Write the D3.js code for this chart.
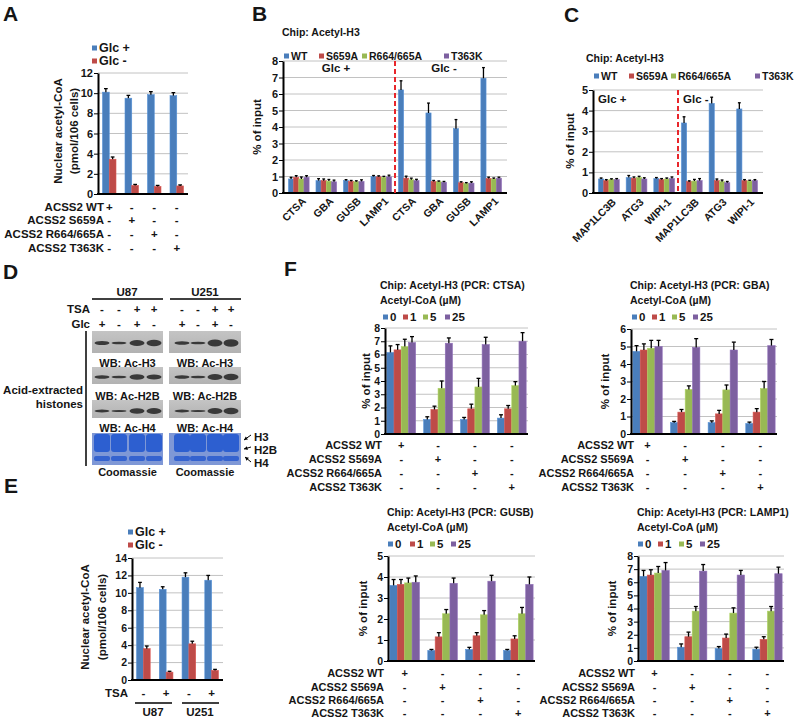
<!DOCTYPE html>
<html><head><meta charset="utf-8">
<script src="https://cdn.jsdelivr.net/npm/d3@7"></script>
<style>
body{margin:0;background:#fff}
svg text{font-family:"Liberation Sans",Arial,sans-serif;font-weight:bold;fill:#151515}
</style>
</head><body>
<svg id="c" width="800" height="721"></svg>
<script>
// ---------------- DATA ----------------
// Panel A
const aLegend = ["Glc +", "Glc -"];
const aGlcPlus = [10.1, 9.5, 9.85, 9.75];
const aGlcPlusErr = [0.35, 0.28, 0.3, 0.3];
const aGlcMinus = [3.45, 0.85, 0.75, 0.8];
const aGlcMinusErr = [0.22, 0.1, 0.1, 0.1];
const aRowLabels = ["ACSS2 WT", "ACSS2 S659A", "ACSS2 R664/665A", "ACSS2 T363K"];
const aTicks = [0, 2, 4, 6, 8, 10, 12];

// Panel B
const bLegend = ["WT", "S659A", "R664/665A", "T363K"];
const bGenes = ["CTSA", "GBA", "GUSB", "LAMP1", "CTSA", "GBA", "GUSB", "LAMP1"];
const bWT = [0.85, 0.75, 0.75, 1.0, 6.25, 4.85, 3.9, 6.95];
const bWTErr = [0.1, 0.12, 0.06, 0.06, 0.55, 0.6, 0.55, 0.65];
const bS659A = [0.95, 0.75, 0.7, 0.98, 0.9, 0.7, 0.62, 0.88];
const bS659AErr = [0.1, 0.1, 0.06, 0.06, 0.12, 0.06, 0.06, 0.08];
const bR664 = [0.85, 0.72, 0.68, 0.95, 0.8, 0.68, 0.58, 0.85];
const bR664Err = [0.12, 0.1, 0.06, 0.06, 0.1, 0.05, 0.05, 0.06];
const bT363K = [0.95, 0.68, 0.7, 0.98, 0.75, 0.65, 0.6, 0.9];
const bT363KErr = [0.1, 0.1, 0.1, 0.1, 0.08, 0.05, 0.08, 0.06];
const bTicks = [0, 1, 2, 3, 4, 5, 6, 7, 8];

// Panel C
const cGenes = ["MAP1LC3B", "ATG3", "WIPI-1", "MAP1LC3B", "ATG3", "WIPI-1"];
const cWT = [0.68, 0.75, 0.7, 3.4, 4.35, 4.08];
const cWTErr = [0.05, 0.1, 0.05, 0.3, 0.3, 0.3];
const cS659A = [0.6, 0.72, 0.65, 0.55, 0.6, 0.6];
const cS659AErr = [0.05, 0.06, 0.05, 0.04, 0.08, 0.05];
const cR664 = [0.65, 0.75, 0.68, 0.58, 0.55, 0.58];
const cR664Err = [0.04, 0.06, 0.05, 0.08, 0.08, 0.04];
const cT363K = [0.65, 0.68, 0.7, 0.6, 0.5, 0.6];
const cT363KErr = [0.05, 0.06, 0.08, 0.1, 0.06, 0.05];
const cTicks = [0, 1, 2, 3, 4, 5];

// Panel D (western blot band strengths per lane: Glc+/-, TSA-/+)
const dBlotLabels = ["WB: Ac-H3", "WB: Ac-H2B", "WB: Ac-H4"];
const dU87Bands = [[4, 2.5, 6, 6.5], [3.5, 2.5, 5.5, 5], [3, 2, 5.5, 6]];
const dU251Bands = [[3.5, 2.5, 7, 7.5], [3.5, 2.5, 6, 6.5], [3, 2, 6, 6.5]];
const dTSA = ["-", "-", "+", "+"];
const dGlc = ["+", "-", "+", "-"];

// Panel E
const eGlcPlus = [10.6, 10.4, 11.8, 11.45];
const eGlcPlusErr = [0.6, 0.3, 0.5, 0.55];
const eGlcMinus = [3.6, 0.9, 4.15, 1.1];
const eGlcMinusErr = [0.3, 0.1, 0.3, 0.12];
const eTSA = ["-", "+", "-", "+"];
const eCells = ["U87", "U251"];
const eTicks = [0, 2, 4, 6, 8, 10, 12, 14];

// Panel F (series = acetyl-CoA 0,1,5,25 µM; groups = WT,S569A,R664/665A,T363K)
const fConc = ["0", "1", "5", "25"];
const fRowLabels = ["ACSS2 WT", "ACSS2 S569A", "ACSS2 R664/665A", "ACSS2 T363K"];
const fCTSA = [[6.15, 1.1, 1.1, 1.2], [6.35, 1.85, 1.9, 1.9], [6.6, 3.45, 3.55, 3.65], [6.9, 6.85, 6.75, 7.0]];
const fCTSAErr = [[0.5, 0.2, 0.15, 0.25], [0.4, 0.25, 0.35, 0.25], [0.55, 0.55, 0.65, 0.3], [0.45, 0.4, 0.55, 0.65]];
const fGBA = [[4.72, 0.65, 0.65, 0.6], [4.8, 1.25, 1.15, 1.25], [4.9, 2.55, 2.52, 2.6], [5.0, 4.95, 4.8, 5.05]];
const fGBAErr = [[0.33, 0.07, 0.1, 0.08], [0.35, 0.15, 0.2, 0.2], [0.45, 0.2, 0.28, 0.4], [0.35, 0.5, 0.45, 0.35]];
const fGUSB = [[3.6, 0.5, 0.55, 0.5], [3.65, 1.15, 1.2, 1.05], [3.72, 2.25, 2.2, 2.25], [3.75, 3.7, 3.8, 3.65]];
const fGUSBErr = [[0.28, 0.05, 0.1, 0.05], [0.23, 0.2, 0.15, 0.15], [0.23, 0.2, 0.2, 0.3], [0.3, 0.25, 0.28, 0.35]];
const fLAMP1 = [[6.45, 1.05, 0.95, 0.9], [6.55, 1.85, 1.75, 1.65], [6.7, 3.8, 3.65, 3.8], [6.9, 6.85, 6.55, 6.65]];
const fLAMP1Err = [[0.45, 0.25, 0.15, 0.15], [0.4, 0.35, 0.3, 0.2], [0.5, 0.35, 0.4, 0.35], [0.6, 0.5, 0.35, 0.5]];

// ---------------- DRAWING ----------------
const svg = d3.select("#c");
const COL = ["#4a7ebb", "#be4b48", "#98b954", "#7d60a0"];

function txt(x, y, s, o = {}) {
  const t = svg.append("text").attr("x", x).attr("y", y).text(s)
    .attr("font-size", o.size || 11).attr("text-anchor", o.anchor || "start")
    .attr("dominant-baseline", "central");
  if (o.rotate != null) t.attr("transform", `rotate(${o.rotate},${x},${y})`);
  return t;
}
function line(x1, y1, x2, y2, w = 1, c = "#000", dash = null) {
  const l = svg.append("line").attr("x1", x1).attr("y1", y1).attr("x2", x2).attr("y2", y2)
    .attr("stroke", c).attr("stroke-width", w);
  if (dash) l.attr("stroke-dasharray", dash);
  return l;
}

function barPanel(cfg) {
  const g = svg.append("g");
  const n = cfg.series[0].vals.length;
  const x0 = d3.scaleBand().domain(d3.range(n)).range([cfg.left, cfg.right])
    .paddingInner(cfg.pi).paddingOuter(cfg.po);
  const x1 = d3.scaleBand().domain(d3.range(cfg.series.length)).range([0, x0.bandwidth()]);
  const y = d3.scaleLinear().domain([0, d3.max(cfg.ticks)]).range([cfg.bottom, cfg.top]);
  g.selectAll(".grid").data(cfg.ticks.filter(t => t > 0)).join("line")
    .attr("x1", cfg.left).attr("x2", cfg.right)
    .attr("y1", d => y(d)).attr("y2", d => y(d))
    .attr("stroke", "#c2c2c2").attr("stroke-width", 1);
  cfg.series.forEach((s, si) => {
    const sg = g.append("g");
    sg.selectAll("rect").data(s.vals).join("rect")
      .attr("x", (d, i) => x0(i) + x1(si)).attr("width", x1.bandwidth())
      .attr("y", d => y(d)).attr("height", d => y(0) - y(d))
      .attr("fill", s.color).attr("stroke", d3.color(s.color).brighter(0.4)).attr("stroke-width", 0.6);
    const cw = Math.min(4, x1.bandwidth() * 0.55);
    s.vals.forEach((v, i) => {
      const cx = x0(i) + x1(si) + x1.bandwidth() / 2;
      const e = s.errs[i];
      sg.append("line").attr("x1", cx).attr("x2", cx).attr("y1", y(v)).attr("y2", y(v + e))
        .attr("stroke", "#000").attr("stroke-width", 1.3);
      sg.append("line").attr("x1", cx - cw / 2).attr("x2", cx + cw / 2).attr("y1", y(v + e)).attr("y2", y(v + e))
        .attr("stroke", "#000").attr("stroke-width", 1.3);
    });
  });
  const ax = g.append("g").attr("transform", `translate(${cfg.left},0)`)
    .call(d3.axisLeft(y).tickValues(cfg.ticks).tickSize(4).tickSizeOuter(0).tickFormat(d3.format("d")));
  ax.select(".domain").attr("stroke", "#000").attr("stroke-width", 2);
  ax.selectAll(".tick line").attr("stroke", "#000").attr("stroke-width", 1);
  ax.selectAll(".tick text").attr("font-size", cfg.tickSize || 11).attr("x", -5)
    .attr("font-family", '"Liberation Sans",Arial,sans-serif').attr("font-weight", "bold").attr("fill", "#151515");
  g.append("line").attr("x1", cfg.left - 1).attr("x2", cfg.right).attr("y1", y(0)).attr("y2", y(0))
    .attr("stroke", "#000").attr("stroke-width", 2);
  if (cfg.ylabel) {
    cfg.ylabel.forEach((l, k) => txt(cfg.ylabelX[k], cfg.ylabelY, l, { size: cfg.ylabelSize || 11.5, anchor: "middle", rotate: -90 }));
  }
  const centers = d3.range(n).map(i => x0(i) + x0.bandwidth() / 2);
  return { x0, y, centers, step: x0.step() };
}

function legendRow(items, xs, y, colors, size) {
  items.forEach((it, i) => {
    svg.append("rect").attr("x", xs[i]).attr("y", y - 2.5).attr("width", 5).attr("height", 5).attr("fill", colors[i]);
    txt(xs[i] + 7, y, it, { size });
  });
}
function signTable(labels, xs, ys, labelX, size) {
  labels.forEach((lab, r) => {
    txt(labelX, ys[r], lab, { size, anchor: "end" });
    xs.forEach((x, c) => txt(x, ys[r], r === c ? "+" : "-", { size, anchor: "middle" }));
  });
}

// ---- Panel letters
[["A", 3, 13], ["B", 252, 13], ["C", 564, 14], ["D", 3, 271], ["E", 4, 485], ["F", 284, 268]]
  .forEach(([s, x, y]) => txt(x, y, s, { size: 21 }));

// ---- Panel A
legendRow([aLegend[0]], [92], 48, [COL[0]], 12.5);
legendRow([aLegend[1]], [92], 61, [COL[1]], 12.5);
const pA = barPanel({
  left: 98, right: 188, top: 73, bottom: 194, ticks: aTicks, pi: 0.4, po: 0.2,
  series: [{ vals: aGlcPlus, errs: aGlcPlusErr, color: COL[0] }, { vals: aGlcMinus, errs: aGlcMinusErr, color: COL[1] }],
  ylabel: ["Nuclear acetyl-CoA", "(pmol/106 cells)"], ylabelX: [58, 74], ylabelY: 131, tickSize: 11
});
signTable(aRowLabels, pA.centers, [207, 220, 234, 248], 104, 11.5);

// ---- Panel B
txt(282, 32, "Chip: Acetyl-H3", { size: 10.5 });
legendRow(bLegend, [284, 319, 362, 444], 56, COL, 10.5);
const pB = barPanel({
  left: 283, right: 507, top: 61, bottom: 193, ticks: bTicks, pi: 0.25, po: 0.2,
  series: [{ vals: bWT, errs: bWTErr, color: COL[0] }, { vals: bS659A, errs: bS659AErr, color: COL[1] },
    { vals: bR664, errs: bR664Err, color: COL[2] }, { vals: bT363K, errs: bT363KErr, color: COL[3] }],
  ylabel: ["% of input"], ylabelX: [257], ylabelY: 127, tickSize: 11
});
{
  const xd = (pB.x0(3) + pB.x0.bandwidth() + pB.x0(4)) / 2;
  line(xd, 61, xd, 193, 2, "#e8262b", "5,3");
  txt(336, 68, "Glc +", { size: 11.5, anchor: "middle" });
  txt(444, 68, "Glc -", { size: 11.5, anchor: "middle" });
  bGenes.forEach((gname, i) => txt(pB.centers[i] + 5, 199, gname, { size: 10.5, anchor: "end", rotate: -45 }));
}

// ---- Panel C
txt(586, 58, "Chip: Acetyl-H3", { size: 10.5 });
legendRow(bLegend, [594, 629, 671, 755], 76, COL, 10.5);
const pC = barPanel({
  left: 593, right: 763, top: 90, bottom: 193, ticks: cTicks, pi: 0.25, po: 0.2,
  series: [{ vals: cWT, errs: cWTErr, color: COL[0] }, { vals: cS659A, errs: cS659AErr, color: COL[1] },
    { vals: cR664, errs: cR664Err, color: COL[2] }, { vals: cT363K, errs: cT363KErr, color: COL[3] }],
  ylabel: ["% of input"], ylabelX: [570], ylabelY: 141, tickSize: 11
});
{
  const xd = (pC.x0(2) + pC.x0.bandwidth() + pC.x0(3)) / 2;
  line(xd, 90, xd, 193, 2, "#e8262b", "5,3");
  txt(598, 99, "Glc +", { size: 11.5 });
  txt(683, 99, "Glc -", { size: 11.5 });
  cGenes.forEach((gname, i) => txt(pC.centers[i] + 5, 200, gname, { size: 10.5, anchor: "end", rotate: -45 }));
}

// ---- Panel D (blot)
{
  const lanesU87 = [102, 119, 137, 154];
  const lanesU251 = [182, 198, 215, 231];
  txt(127, 292, "U87", { size: 11.5, anchor: "middle" });
  txt(205, 292, "U251", { size: 11.5, anchor: "middle" });
  line(92, 299, 163, 299, 1.5);
  line(170, 299, 241, 299, 1.5);
  txt(90, 309, "TSA", { size: 11.5, anchor: "end" });
  txt(90, 324, "Glc", { size: 11.5, anchor: "end" });
  lanesU87.concat(lanesU251).forEach((x, i) => {
    txt(x, 309, dTSA[i % 4], { size: 11.5, anchor: "middle" });
    txt(x, 324, dGlc[i % 4], { size: 11.5, anchor: "middle" });
  });
  line(86, 331, 86, 466, 1.5);
  txt(83, 390, "Acid-extracted", { size: 11.5, anchor: "end" });
  txt(83, 404, "histones", { size: 11.5, anchor: "end" });
  const boxes = [[331, 353, 343, 363], [367, 384, 377, 396], [400, 418, 411, 428]];
  const defs = svg.append("defs");
  const gr = defs.append("linearGradient").attr("id", "blotg").attr("x1", 0).attr("y1", 0).attr("x2", 0).attr("y2", 1);
  gr.append("stop").attr("offset", 0).attr("stop-color", "#c4c4c4");
  gr.append("stop").attr("offset", 1).attr("stop-color", "#b2b2b2");
  boxes.forEach(([y0, y1, yb, yl], k) => {
    [[92, 163, lanesU87, dU87Bands], [169, 241, lanesU251, dU251Bands]].forEach(([xa, xb, lanes, bands]) => {
      svg.append("rect").attr("x", xa).attr("y", y0).attr("width", xb - xa).attr("height", y1 - y0).attr("fill", "url(#blotg)");
      lanes.forEach((lx, li) => {
        const h = bands[k][li];
        svg.append("ellipse").attr("cx", lx).attr("cy", yb).attr("rx", 7.5).attr("ry", h / 2)
          .attr("fill", "#2b2b2b").attr("opacity", 0.9);
      });
      txt((xa + xb) / 2, yl, dBlotLabels[k], { size: 11, anchor: "middle" });
    });
  });
  [[92, 163, lanesU87], [169, 241, lanesU251]].forEach(([xa, xb, lanes]) => {
    svg.append("rect").attr("x", xa).attr("y", 433).attr("width", xb - xa).attr("height", 32).attr("fill", "#7f98d6");
    lanes.forEach(lx => {
      svg.append("rect").attr("x", lx - 8).attr("y", 434).attr("width", 16).attr("height", 18).attr("rx", 3).attr("fill", "#2d5fd0");
      svg.append("rect").attr("x", lx - 8).attr("y", 456).attr("width", 16).attr("height", 5).attr("rx", 2).attr("fill", "#3563cf");
    });
    txt((xa + xb) / 2, 472, "Coomassie", { size: 11, anchor: "middle" });
  });
  txt(254, 437, "H3", { size: 11.5 });
  txt(254, 450, "H2B", { size: 11.5 });
  txt(254, 463, "H4", { size: 11.5 });
  const arrow = (x1, y1, x2, y2) => {
    line(x1, y1, x2, y2, 1);
    const a = Math.atan2(y2 - y1, x2 - x1);
    const p = [[x2, y2], [x2 - 4 * Math.cos(a - 0.5), y2 - 4 * Math.sin(a - 0.5)], [x2 - 4 * Math.cos(a + 0.5), y2 - 4 * Math.sin(a + 0.5)]];
    svg.append("polygon").attr("points", p.map(q => q.join(",")).join(" ")).attr("fill", "#000");
  };
  arrow(251, 435, 244, 440);
  arrow(251, 447, 244, 449);
  arrow(251, 462, 245, 457);
}

// ---- Panel E
legendRow([aLegend[0]], [128], 532, [COL[0]], 12.5);
legendRow([aLegend[1]], [128], 545, [COL[1]], 12.5);
const pE = barPanel({
  left: 132, right: 223, top: 558, bottom: 680, ticks: eTicks, pi: 0.4, po: 0.2,
  series: [{ vals: eGlcPlus, errs: eGlcPlusErr, color: COL[0] }, { vals: eGlcMinus, errs: eGlcMinusErr, color: COL[1] }],
  ylabel: ["Nuclear acetyl-CoA", "(pmol/106 cells)"], ylabelX: [85, 102], ylabelY: 617, tickSize: 10.5
});
txt(128, 693, "TSA", { size: 11.5, anchor: "end" });
eTSA.forEach((s, i) => txt(pE.centers[i], 693, s, { size: 11.5, anchor: "middle" }));
line(135, 703, 172, 703, 1.5);
line(182, 703, 219, 703, 1.5);
txt(153, 712, eCells[0], { size: 11.5, anchor: "middle" });
txt(200, 712, eCells[1], { size: 11.5, anchor: "middle" });

// ---- Panel F
function fPanel(gene, vals, errs, box) {
  txt(box.tx, box.ty, "Chip: Acetyl-H3 (PCR: " + gene + ")", { size: 10.5 });
  txt(box.tx, box.ty + 15, "Acetyl-CoA (µM)", { size: 10.5 });
  legendRow(fConc, box.lx, box.ty + 32, COL, 11.5);
  const p = barPanel({
    left: box.left, right: box.right, top: box.top, bottom: box.bottom, ticks: box.ticks, pi: 0.22, po: 0.05,
    series: vals.map((v, k) => ({ vals: v, errs: errs[k], color: COL[k] })),
    ylabel: ["% of input"], ylabelX: [box.ylx], ylabelY: (box.top + box.bottom) / 2, tickSize: 10.5
  });
  signTable(fRowLabels, p.centers, box.rows, box.labX, 11);
}
fPanel("CTSA", fCTSA, fCTSAErr, { tx: 380, ty: 285, lx: [383, 403, 423, 445], left: 385, right: 528, top: 328, bottom: 434,
  ticks: [0, 1, 2, 3, 4, 5, 6, 7, 8], ylx: 366, rows: [445, 459, 473, 487], labX: 382 });
fPanel("GBA", fGBA, fGBAErr, { tx: 630, ty: 285, lx: [632, 652, 672, 693], left: 631, right: 777, top: 329, bottom: 434,
  ticks: [0, 1, 2, 3, 4, 5, 6], ylx: 605, rows: [445, 459, 473, 487], labX: 634 });
fPanel("GUSB", fGUSB, fGUSBErr, { tx: 387, ty: 512, lx: [388, 410, 430, 451], left: 388, right: 535, top: 556, bottom: 661,
  ticks: [0, 1, 2, 3, 4, 5], ylx: 363, rows: [673, 687, 700, 713], labX: 384 });
fPanel("LAMP1", fLAMP1, fLAMP1Err, { tx: 637, ty: 512, lx: [638, 658, 679, 700], left: 638, right: 784, top: 556, bottom: 661,
  ticks: [0, 1, 2, 3, 4, 5, 6, 7, 8], ylx: 612, rows: [673, 687, 700, 713], labX: 635 });
</script>
</body></html>
